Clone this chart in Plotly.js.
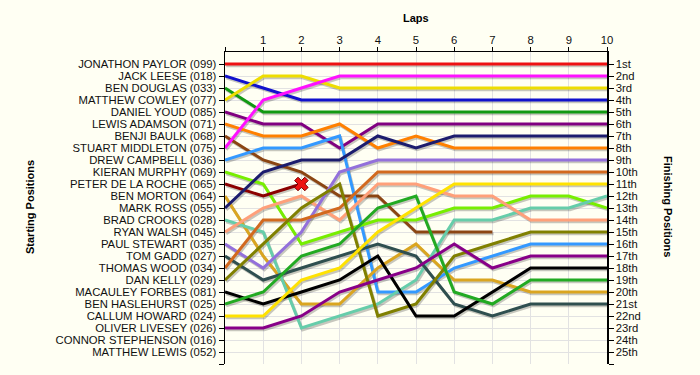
<!DOCTYPE html>
<html><head><meta charset="utf-8">
<script src="https://cdn.plot.ly/plotly-3.0.1.min.js"></script>
<style>html,body{margin:0;padding:0;background:#fffff3;}</style>
</head><body><div id="chart" style="width:700px;height:375px"></div>
<script>
const laps = [0,1,2,3,4,5,6,7,8,9,10];
const startNames = ['JONATHON PAYLOR (099)','JACK LEESE (018)','BEN DOUGLAS (033)','MATTHEW COWLEY (077)','DANIEL YOUD (085)','LEWIS ADAMSON (071)','BENJI BAULK (068)','STUART MIDDLETON (075)','DREW CAMPBELL (036)','KIERAN MURPHY (069)','PETER DE LA ROCHE (065)','BEN MORTON (064)','MARK ROSS (055)','BRAD CROOKS (028)','RYAN WALSH (045)','PAUL STEWART (035)','TOM GADD (027)','THOMAS WOOD (034)','DAN KELLY (029)','MACAULEY FORBES (081)','BEN HASLEHURST (025)','CALLUM HOWARD (024)','OLIVER LIVESEY (026)','CONNOR STEPHENSON (016)','MATTHEW LEWIS (052)'];
const finishLabels = ['1st','2nd','3rd','4th','5th','6th','7th','8th','9th','10th','11th','12th','13th','14th','15th','16th','17th','18th','19th','20th','21st','22nd','23rd','24th','25th'];

// positions per lap (lap 0 = start); null = retired
const paylor     = [1,1,1,1,1,1,1,1,1,1,1];
const leese      = [2,3,4,4,4,4,4,4,4,4,4];
const douglas    = [3,5,5,5,5,5,5,5,5,5,5];
const cowley     = [4,2,2,3,3,3,3,3,3,3,3];
const youd       = [5,6,6,8,6,6,6,6,6,6,6];
const adamson    = [6,7,7,6,8,7,8,8,8,8,8];
const baulk      = [7,9,10,12,12,15,15,15,null,null,null];
const middleton  = [8,4,3,2,2,2,2,2,2,2,2];
const campbell   = [9,8,8,7,20,20,18,17,16,16,16];
const murphy     = [10,11,16,15,14,14,13,13,12,12,13];
const delaroche  = [11,12,11,null,null,null,null,null,null,null,null];
const morton     = [12,17,21,21,18,16,19,19,20,20,20];
const ross       = [13,10,9,9,7,8,7,7,7,7,7];
const crooks     = [14,15,23,22,21,19,14,14,13,13,12];
const walsh      = [15,13,12,14,11,11,12,12,14,14,14];
const stewart    = [16,18,15,10,9,9,9,9,9,9,9];
const gadd       = [17,19,18,17,16,17,21,22,21,21,21];
const wood       = [18,14,14,13,10,10,10,10,10,10,10];
const kelly      = [19,16,13,11,22,21,17,16,15,15,15];
const forbes     = [20,21,20,19,17,22,22,20,18,18,18];
const haslehurst = [21,20,17,16,13,12,20,21,19,19,19];
const howard     = [22,22,19,18,15,13,11,11,11,11,11];
const livesey    = [23,23,22,20,19,18,16,18,17,17,17];

const series = [paylor,leese,douglas,cowley,youd,adamson,baulk,middleton,campbell,murphy,delaroche,morton,ross,crooks,walsh,stewart,gadd,wood,kelly,forbes,haslehurst,howard,livesey];
const colors = ['#ee1111','#1111cc','#119911','#eedd00','#800080','#ff8000','#8b4513','#ff11ff','#3399ff','#77ee00','#8b0000','#daa520','#1c1c6e','#66cdaa','#ffa07a','#9370db','#2f4f4f','#d2691e','#808000','#000000','#22aa22','#ffe200','#880088'];

// retirement with crash marker
const crashDriver = 10; // PETER DE LA ROCHE
const crashLap = 2;

const traces = [];
series.forEach((s)=>{
  traces.push({x:laps, y:s, xaxis:'x', yaxis:'y', mode:'lines', type:'scatter',
    line:{color:'rgba(0,0,0,0.22)', width:3}, hoverinfo:'skip', showlegend:false, connectgaps:false});
});
series.forEach((s,i)=>{
  traces.push({x:laps, y:s, xaxis:'x2', yaxis:'y2', mode:'lines', type:'scatter',
    line:{color:colors[i], width:3}, name:startNames[i], showlegend:false, connectgaps:false});
});
traces.push({x:[laps[crashLap]], y:[series[crashDriver][crashLap]], xaxis:'x2', yaxis:'y2', mode:'markers', type:'scatter',
  marker:{symbol:'x', size:12, color:'#ee1111', line:{color:'#7a0000', width:1}}, showlegend:false});
// finishing-positions axis carrier
traces.push({x:[laps[10]], y:[paylor[10]], xaxis:'x2', yaxis:'y3', mode:'markers', type:'scatter',
  marker:{size:1, opacity:0}, hoverinfo:'skip', showlegend:false});

const W=382, H=312;
const dx = 1.2/W*10, dy = 1.8/H*26;
const font = {family:'Liberation Sans, Arial, sans-serif', size:11.3, color:'#111'};
const tickVals = []; for(let i=1;i<=26;i++) tickVals.push(i);
const leftText = startNames.concat(['']);
const rightText = finishLabels.concat(['']);

const layout = {
  width:700, height:375,
  margin:{l:225, r:93, t:52, b:11, pad:0},
  paper_bgcolor:'#fffff3', plot_bgcolor:'#fffff3',
  font:font,
  showlegend:false,
  xaxis:{range:[-dx,10-dx], visible:false, fixedrange:true},
  yaxis:{range:[26-dy,-dy], visible:false, fixedrange:true},
  xaxis2:{overlaying:'x', side:'top', anchor:'y2', range:[0,10], tickvals:laps, ticktext:['','1','2','3','4','5','6','7','8','9','10'],
    ticks:'outside', ticklen:4, tickcolor:'#000', showline:true, linecolor:'#000', linewidth:1.5,
    showgrid:true, gridcolor:'#e2e2e2', gridwidth:1, zeroline:false, tickfont:font, ticklabelstandoff:-2},
  yaxis2:{overlaying:'y', side:'left', anchor:'x2', range:[26,0], tickvals:tickVals, ticktext:leftText,
    ticks:'outside', ticklen:5, tickcolor:'#000', showline:true, linecolor:'#000', linewidth:1.5,
    showgrid:true, gridcolor:'#e2e2e2', gridwidth:1, zeroline:false, tickfont:font},
  yaxis3:{overlaying:'y', side:'right', anchor:'x2', range:[26,0], tickvals:tickVals, ticktext:rightText,
    ticks:'outside', ticklen:5, tickcolor:'#000', showline:true, linecolor:'#000', linewidth:1.5,
    showgrid:false, zeroline:false, tickfont:font},
  annotations:[
    {text:'<b>Laps</b>', xref:'paper', yref:'paper', x:0.5, y:(364-18)/312, xanchor:'center', yanchor:'middle', showarrow:false, font:{family:font.family, size:11, color:'#000'}},
    {text:'<b>Starting Positions</b>', xref:'paper', yref:'paper', x:(30-225)/382, y:(364-207)/312, xanchor:'center', yanchor:'middle', textangle:-90, showarrow:false, font:{family:font.family, size:11, color:'#000'}},
    {text:'<b>Finishing Positions</b>', xref:'paper', yref:'paper', x:(668-225)/382, y:(364-206)/312, xanchor:'center', yanchor:'middle', textangle:90, showarrow:false, font:{family:font.family, size:11, color:'#000'}}
  ]
};
Plotly.newPlot('chart', traces, layout, {staticPlot:true, displayModeBar:false});
</script></body></html>
